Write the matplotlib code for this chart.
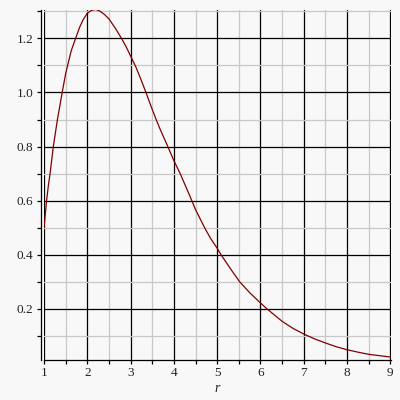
import matplotlib
matplotlib.use("Agg")
import matplotlib.pyplot as plt
from matplotlib.ticker import MultipleLocator

# valeurs
r = [1.0, 1.03, 1.06, 1.10, 1.14, 1.215, 1.31, 1.42, 1.50, 1.545, 1.63, 1.73,
     1.82, 1.90, 2.00, 2.10, 2.20, 2.30, 2.40, 2.50, 2.65, 2.79, 2.90, 3.00,
     3.12, 3.24, 3.36, 3.47, 3.59, 3.68, 3.86, 4.00, 4.146, 4.28, 4.415, 4.50,
     4.71, 4.85, 5.00, 5.09, 5.30, 5.52, 5.75, 6.00, 6.15, 6.50, 6.75, 7.00,
     7.25, 7.50, 7.75, 8.00, 8.25, 8.50, 8.75, 9.00]
valeurs = [0.50, 0.55, 0.60, 0.655, 0.70, 0.80, 0.90, 1.00, 1.07, 1.10, 1.155, 1.20,
           1.24, 1.268, 1.293, 1.304, 1.307, 1.300, 1.288, 1.272, 1.237, 1.20, 1.168, 1.135,
           1.095, 1.048, 0.998, 0.95, 0.90, 0.865, 0.80, 0.748, 0.70, 0.65, 0.60, 0.567,
           0.50, 0.46, 0.424, 0.40, 0.35, 0.30, 0.26, 0.222, 0.20, 0.154, 0.128, 0.107,
           0.089, 0.074, 0.060, 0.049, 0.040, 0.032, 0.027, 0.022]

fond = '#f8f8f8'
fig = plt.figure(figsize=(4, 4), dpi=100, facecolor=fond)
ax = fig.add_axes([0.11, 0.1, 0.867, 0.875], facecolor=fond)

ax.plot(r, valeurs, color='#800000', linewidth=0.9, zorder=3)

ax.set_xlim(1, 9.01)
ax.set_ylim(0.011, 1.305)

ax.xaxis.set_major_locator(MultipleLocator(1))
ax.xaxis.set_minor_locator(MultipleLocator(0.5))
ax.yaxis.set_major_locator(MultipleLocator(0.2))
ax.yaxis.set_minor_locator(MultipleLocator(0.1))
ax.set_yticks([0.2, 0.4, 0.6, 0.8, 1.0, 1.2])

ax.grid(True, which='minor', color='#c8c8c8', linewidth=0.9, zorder=1)
ax.grid(True, which='major', color='black', linewidth=0.9, zorder=2)
ax.set_axisbelow(True)

for s in ['top', 'right']:
    ax.spines[s].set_visible(False)
ax.spines['left'].set_position(('outward', 2.5))
ax.spines['left'].set_linewidth(0.9)
ax.spines['bottom'].set_linewidth(0.9)

ax.tick_params(which='both', direction='out', length=3, width=0.9,
               labelsize=9.5, colors='black', pad=2)
for lab in ax.get_xticklabels() + ax.get_yticklabels():
    lab.set_family('Liberation Serif')
    lab.set_color('#222222')

ax.set_xlabel('r', fontsize=10, fontstyle='italic', family='Liberation Serif',
              labelpad=2, color='#222222')

fig.savefig('out.png', dpi=100, facecolor=fond)
